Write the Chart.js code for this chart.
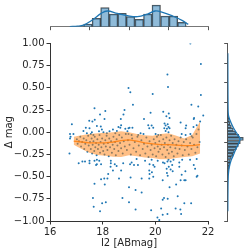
<!DOCTYPE html>
<html>
<head>
<meta charset="utf-8">
<script src="https://cdn.jsdelivr.net/npm/chart.js@4"></script>
<style>
  body { margin: 0; background: #fff; }
  #wrap { position: relative; width: 249px; height: 252px; }
  canvas { position: absolute; left: 0; top: 0; }
</style>
</head>
<body>
<div id="wrap">
  <canvas id="mainChart" width="249" height="252"></canvas>
  <canvas id="topChart" width="249" height="252"></canvas>
  <canvas id="rightChart" width="249" height="252"></canvas>
</div>
<script>
// scatter: [I2 magnitude, delta mag]
const starPoints = [
  // above the band
  [21.33, 1.00], [21.73, 0.77], [20.46, 0.65], [20.48, 0.51], [18.98, 0.50], [19.05, 0.45],
  [19.90, 0.43], [21.73, 0.42], [19.15, 0.31], [21.37, 0.31], [21.63, 0.29], [18.10, 0.24],
  [18.83, 0.25], [19.82, 0.22], [20.30, 0.23], [20.51, 0.21], [21.82, 0.19], [21.46, 0.15],
  [17.69, 0.27], [17.90, 0.20], [16.83, 0.09], [17.49, 0.13], [17.61, 0.12], [17.70, 0.14],
  [18.07, 0.15], [18.69, 0.15], [18.79, 0.20], [18.70, 0.08], [18.67, 0.05], [17.36, 0.05],
  [17.50, 0.045], [17.78, 0.07], [17.93, 0.065], [17.97, 0.03], [17.86, 0.01], [16.76, -0.02],
  [16.78, -0.05], [16.76, -0.07], [16.89, -0.02], [16.74, -0.24], [19.57, 0.15], [20.42, 0.18],
  [20.54, 0.16], [20.96, 0.11], [21.47, 0.16], [21.70, 0.12], [21.17, 0.075], [21.15, 0.045],
  [21.45, 0.06], [21.57, 0.08], [19.13, 0.05], [18.98, 0.045], [19.73, 0.08], [19.86, 0.075],
  [19.92, 0.05], [19.77, 0.045], [20.35, 0.10], [20.39, 0.075], [20.47, 0.09], [20.50, 0.06],
  [20.34, 0.045], [20.44, 0.04], [20.54, 0.045], [20.39, 0.015], [20.50, 0.0], [20.01, -0.02],
  [20.11, -0.03], [19.44, -0.01], [19.55, -0.02], [19.35, -0.03], [18.98, -0.02], [19.10, -0.03],
  [21.00, -0.02], [21.15, -0.03], [21.33, -0.02], [21.38, -0.045], [17.59, 0.0], [17.65, -0.03],
  [17.55, -0.02], [18.03, 0.0], [18.16, -0.01], [18.26, 0.01], [18.39, 0.03], [18.48, -0.01],
  [18.54, 0.015], [18.60, 0.06], [18.86, 0.04], [18.94, 0.01], [19.02, 0.05], [17.27, 0.015],
  [17.40, -0.01],
  // inside the band
  [17.02, -0.08], [17.05, -0.13], [17.10, -0.10], [17.15, -0.05], [17.18, -0.16], [17.22, -0.11],
  [17.28, -0.07], [17.30, -0.19], [17.34, -0.13], [17.38, -0.09], [17.42, -0.22], [17.45, -0.04],
  [17.47, -0.15], [17.52, -0.11], [17.55, -0.19], [17.58, -0.07], [17.60, -0.24], [17.62, -0.14],
  [17.65, -0.10], [17.68, -0.21], [17.70, -0.05], [17.72, -0.17], [17.75, -0.12], [17.77, -0.26],
  [17.80, -0.08], [17.82, -0.19], [17.85, -0.14], [17.88, -0.03], [17.90, -0.23], [17.92, -0.11],
  [17.95, -0.17], [17.98, -0.07], [18.02, -0.21], [18.04, -0.13], [18.07, -0.25], [18.10, -0.09],
  [18.12, -0.16], [18.15, -0.04], [18.18, -0.20], [18.20, -0.12], [18.23, -0.27], [18.25, -0.07],
  [18.28, -0.17], [18.32, -0.10], [18.35, -0.23], [18.38, -0.14], [18.41, -0.05], [18.44, -0.19],
  [18.47, -0.11], [18.50, -0.26], [18.53, -0.08], [18.56, -0.15], [18.60, -0.21], [18.63, -0.03],
  [18.66, -0.12], [18.70, -0.18], [18.73, -0.06], [18.76, -0.24], [18.80, -0.10], [18.84, -0.16],
  [18.88, -0.02], [18.92, -0.20], [18.96, -0.09], [19.02, -0.14], [19.07, -0.25], [19.12, -0.07],
  [19.17, -0.18], [19.22, -0.11], [19.27, -0.22], [19.32, -0.05], [19.37, -0.15], [19.42, -0.26],
  [19.47, -0.09], [19.52, -0.19], [19.57, -0.13], [19.62, -0.24], [19.66, -0.06], [19.70, -0.16],
  [19.74, -0.28], [19.78, -0.10], [19.82, -0.20], [19.86, -0.14], [19.90, -0.25], [19.94, -0.08],
  [19.97, -0.18], [20.00, -0.12], [20.03, -0.27], [20.06, -0.05], [20.09, -0.16], [20.12, -0.22],
  [20.15, -0.10], [20.18, -0.19], [20.21, -0.03], [20.24, -0.14], [20.27, -0.25], [20.30, -0.08],
  [20.33, -0.17], [20.36, -0.12], [20.39, -0.28], [20.42, -0.06], [20.45, -0.20], [20.48, -0.14],
  [20.51, -0.24], [20.54, -0.09], [20.57, -0.17], [20.60, -0.04], [20.63, -0.22], [20.66, -0.12],
  [20.70, -0.27], [20.73, -0.08], [20.76, -0.18], [20.80, -0.14], [20.84, -0.24], [20.88, -0.10],
  [20.92, -0.19], [20.96, -0.06], [21.00, -0.15], [21.04, -0.26], [21.08, -0.11], [21.12, -0.20],
  [21.17, -0.08], [21.22, -0.16], [21.27, -0.25], [21.32, -0.12], [21.37, -0.19], [21.42, -0.06],
  [21.47, -0.14], [21.52, -0.23], [21.56, -0.02], [21.60, -0.17], [21.64, 0.03], [21.68, -0.11],
  // below the band
  [17.09, -0.35], [17.23, -0.33], [17.33, -0.33], [17.50, -0.32], [17.50, -0.35], [17.69, -0.32],
  [17.78, -0.31], [17.87, -0.32], [17.78, -0.36], [17.75, -0.37], [17.94, -0.36], [18.31, -0.32],
  [18.31, -0.35], [18.30, -0.39], [18.46, -0.36], [18.53, -0.38], [18.78, -0.35], [18.21, -0.47],
  [18.39, -0.43], [18.70, -0.43], [18.06, -0.52], [17.94, -0.53], [18.18, -0.52], [18.08, -0.59],
  [17.69, -0.58], [18.62, -0.52], [17.63, -0.74], [18.75, -0.74], [17.66, -0.84], [18.12, -0.79],
  [17.98, -0.80], [17.90, -0.89], [19.04, -0.36], [19.10, -0.34], [19.19, -0.37], [19.34, -0.37],
  [19.78, -0.36], [19.92, -0.37], [19.97, -0.39], [19.77, -0.43], [19.87, -0.45], [19.78, -0.47],
  [19.92, -0.50], [19.77, -0.52], [20.29, -0.34], [20.35, -0.35], [20.46, -0.33], [20.58, -0.33],
  [20.64, -0.37], [20.51, -0.39], [20.43, -0.41], [20.58, -0.42], [20.66, -0.44], [20.91, -0.34],
  [21.02, -0.31], [20.91, -0.39], [21.46, -0.37], [21.51, -0.41], [21.60, -0.49], [21.14, -0.44],
  [20.44, -0.46], [20.47, -0.49], [21.00, -0.48], [20.96, -0.54], [21.10, -0.54], [21.15, -0.54],
  [20.28, -0.54], [21.57, -0.50], [19.48, -0.52], [19.06, -0.51], [20.79, -0.59], [20.54, -0.62],
  [19.00, -0.62], [19.25, -0.65], [19.48, -0.68], [20.85, -0.72], [20.33, -0.74], [20.47, -0.75],
  [20.28, -0.76], [19.00, -0.79], [21.10, -0.80], [21.36, -0.80], [19.25, -0.87], [19.84, -0.88],
  [20.22, -0.86], [20.77, -0.86], [20.95, -0.87], [20.46, -0.92], [20.28, -0.93], [20.08, -0.96],
  [20.15, -0.99], [20.98, -0.92], [19.29, -0.30], [19.61, -0.32], [19.86, -0.31], [20.09, -0.32],
  [20.50, -0.31], [20.69, -0.31], [21.32, -0.31], [21.57, -0.30]
];

// running median and spread
const trendI2   = [16.9, 17.2, 17.5, 17.8, 18.1, 18.4, 18.7, 19.0, 19.3, 19.6, 19.9, 20.2, 20.5, 20.8, 21.1, 21.4, 21.7];
const trendMed  = [-0.10, -0.11, -0.12, -0.12, -0.12, -0.11, -0.095, -0.085, -0.10, -0.12, -0.13, -0.14, -0.14, -0.145, -0.15, -0.15, -0.14];
const trendHigh = [-0.05, -0.035, -0.02, -0.01, -0.005, 0.0, 0.01, 0.0, -0.02, -0.035, -0.04, -0.02, -0.01, -0.04, -0.07, -0.03, 0.12];
const trendLow  = [-0.14, -0.19, -0.23, -0.255, -0.265, -0.275, -0.28, -0.26, -0.27, -0.285, -0.29, -0.305, -0.305, -0.29, -0.28, -0.27, -0.24];

// top marginal: I2 histogram + kde
const i2BinCenters = [16.92, 17.35, 17.78, 18.22, 18.65, 19.08, 19.52, 19.95, 20.38, 20.82, 21.25, 21.68];
const i2Counts     = [8, 25, 57, 38, 40, 30, 22, 38, 65, 32, 32, 13];
const i2KdeX = [16.0, 16.4, 16.70, 17.14, 17.59, 17.90, 18.41, 18.92, 19.43, 19.94, 20.32, 20.70, 21.21, 21.71, 22.0];
const i2KdeY = [0.3, 1.5, 5, 20, 40, 47, 40, 33, 30, 38, 47, 43, 32, 18, 7];

// right marginal: delta mag histogram + kde
const dmagBinCenters = [0.195, 0.155, 0.115, 0.075, 0.035, -0.005, -0.045, -0.085, -0.125, -0.165, -0.205, -0.245, -0.285, -0.325, -0.365, -0.405, -0.445, -0.485, -0.525];
const dmagCounts     = [3, 5, 7, 11, 17, 24, 33, 47, 38, 32, 26, 20, 15, 11, 8, 6, 4, 3, 2];
const dmagKdeY = [1.0, 0.6, 0.35, 0.25, 0.20, 0.12, 0.05, -0.03, -0.08, -0.14, -0.21, -0.29, -0.36, -0.44, -0.51, -0.58, -0.7, -1.0];
const dmagKdeX = [0.3, 0.6, 1, 1.5, 3, 10, 18, 30, 37, 33, 25, 17, 10, 5, 2.5, 1.5, 0.8, 0.3];

const xTickStep = 2;
const yTickStep = 0.25;

Chart.defaults.font.family = "'DejaVu Sans', sans-serif";
Chart.defaults.font.size = 10;
Chart.defaults.color = '#262626';

const noPlugins = { legend: { display: false }, tooltip: { enabled: false } };
const toPts = (xs, ys) => xs.map((x, i) => ({ x: x, y: ys[i] }));

function fmtTick(v) {
  const s = Math.abs(v).toFixed(2);
  return v < -1e-9 ? '\u2212' + s : s;
}

// main scatter
new Chart(document.getElementById('mainChart'), {
  type: 'scatter',
  data: {
    datasets: [
      {
        type: 'line', showLine: true, data: toPts(trendI2, trendMed),
        borderColor: 'rgba(255,127,14,0.85)', borderWidth: 1.3, pointRadius: 0, fill: false, order: 0
      },
      {
        type: 'line', showLine: true, data: toPts(trendI2, trendHigh),
        borderColor: 'transparent', borderWidth: 0, pointRadius: 0,
        backgroundColor: 'rgba(255,127,14,0.5)', fill: '+1', order: 1
      },
      {
        type: 'line', showLine: true, data: toPts(trendI2, trendLow),
        borderColor: 'transparent', borderWidth: 0, pointRadius: 0, fill: false, order: 1
      },
      {
        data: starPoints.map(p => ({ x: p[0], y: p[1] })),
        backgroundColor: '#1f77b4', borderWidth: 0, pointRadius: 1.0, order: 2
      }
    ]
  },
  options: {
    responsive: false,
    animation: false,
    layout: { padding: { left: 0, top: 43.5, right: 41, bottom: 0 } },
    plugins: noPlugins,
    scales: {
      x: {
        type: 'linear', min: 16, max: 22,
        ticks: { stepSize: xTickStep, padding: 2 },
        grid: { drawOnChartArea: false, drawTicks: true, tickLength: 3.5, color: '#333' },
        border: { color: '#333' },
        title: { display: true, text: 'I2 [ABmag]', padding: { top: 0, bottom: 3 } },
        afterFit: s => { s.height = 31; }
      },
      y: {
        min: -1, max: 1,
        ticks: { stepSize: yTickStep, padding: 2, callback: v => fmtTick(v) },
        grid: { drawOnChartArea: false, drawTicks: true, tickLength: 3.5, color: '#333' },
        border: { color: '#333' },
        title: { display: true, text: '\u0394 mag', padding: { top: 3, bottom: 0 } },
        afterFit: s => { s.width = 50; }
      }
    }
  }
});

// top marginal histogram
new Chart(document.getElementById('topChart'), {
  type: 'bar',
  data: {
    datasets: [
      {
        type: 'line', data: toPts(i2KdeX, i2KdeY), borderColor: '#1f77b4',
        borderWidth: 1.3, pointRadius: 0, tension: 0.4, fill: false, order: 0
      },
      {
        type: 'bar', data: toPts(i2BinCenters, i2Counts),
        backgroundColor: 'rgba(31,119,180,0.5)', borderColor: 'rgba(40,40,40,0.8)', borderWidth: 0.8,
        barPercentage: 1, categoryPercentage: 1, order: 1
      }
    ]
  },
  options: {
    responsive: false,
    animation: false,
    layout: { padding: { left: 50, right: 41, top: 0, bottom: 221.3 } },
    plugins: noPlugins,
    scales: {
      x: {
        type: 'linear', min: 16, max: 22,
        ticks: { display: false, stepSize: xTickStep },
        grid: { drawOnChartArea: false, drawTicks: true, tickLength: 3.5, color: '#555' },
        border: { color: '#777' },
        afterFit: s => { s.height = 4; }
      },
      y: { display: false, min: 0, max: 80 }
    }
  }
});

// right marginal histogram
new Chart(document.getElementById('rightChart'), {
  type: 'bar',
  data: {
    datasets: [
      {
        type: 'line', indexAxis: 'y', data: toPts(dmagKdeX, dmagKdeY), borderColor: '#1f77b4',
        borderWidth: 1.3, pointRadius: 0, tension: 0.4, fill: false, order: 0
      },
      {
        type: 'bar', data: toPts(dmagCounts, dmagBinCenters),
        backgroundColor: 'rgba(31,119,180,0.5)', borderColor: 'rgba(40,40,40,0.8)', borderWidth: 0.8,
        barPercentage: 1, categoryPercentage: 1, order: 1
      }
    ]
  },
  options: {
    indexAxis: 'y',
    responsive: false,
    animation: false,
    layout: { padding: { left: 224.2, right: 0, top: 43.5, bottom: 31 } },
    plugins: noPlugins,
    scales: {
      y: {
        type: 'linear', min: -1, max: 1,
        ticks: { display: false, stepSize: yTickStep },
        grid: { drawOnChartArea: false, drawTicks: true, tickLength: 3.5, color: '#555' },
        border: { color: '#555' },
        afterFit: s => { s.width = 3.5; }
      },
      x: { display: false, min: 0, max: 64 }
    }
  }
});
</script>
</body>
</html>
